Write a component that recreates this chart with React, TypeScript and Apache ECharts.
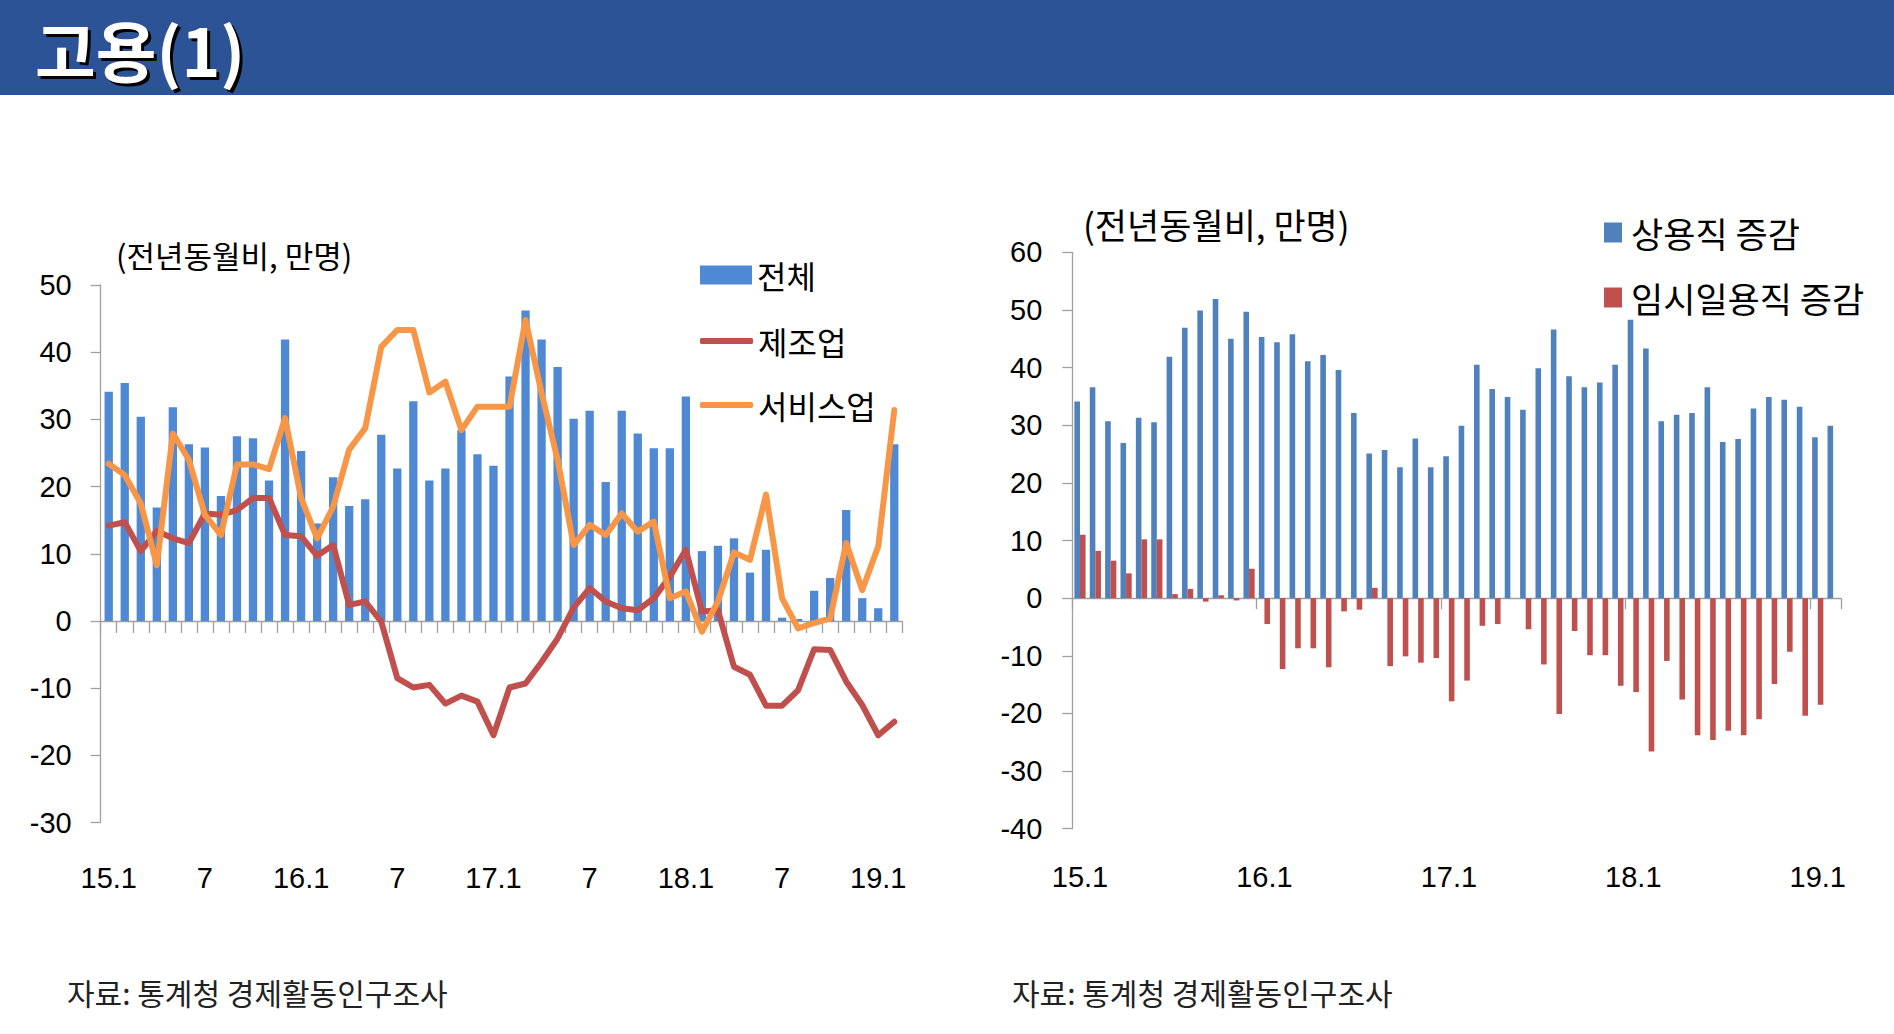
import React, { useEffect, useRef } from "react";
import * as echarts from "echarts";

// ---- Data (전년동월비, 만명) ----
const months = [
  "15.1","15.2","15.3","15.4","15.5","15.6","15.7","15.8","15.9","15.10","15.11","15.12",
  "16.1","16.2","16.3","16.4","16.5","16.6","16.7","16.8","16.9","16.10","16.11","16.12",
  "17.1","17.2","17.3","17.4","17.5","17.6","17.7","17.8","17.9","17.10","17.11","17.12",
  "18.1","18.2","18.3","18.4","18.5","18.6","18.7","18.8","18.9","18.10","18.11","18.12",
  "19.1","19.2",
];

const totalEmp = [
  34.1, 35.4, 30.4, 16.9, 31.8, 26.3, 25.8, 18.6, 27.5, 27.2, 20.9, 41.9,
  25.3, 14.5, 21.4, 17.1, 18.1, 27.7, 22.7, 32.7, 20.9, 22.7, 28.4, 24.8,
  23.1, 36.4, 46.2, 41.9, 37.8, 30.1, 31.3, 20.7, 31.3, 27.9, 25.7, 25.7,
  33.4, 10.4, 11.2, 12.3, 7.2, 10.6, 0.5, 0.3, 4.5, 6.4, 16.5, 3.4,
  1.9, 26.3,
];

const manufacturing = [
  14.2, 14.7, 10.4, 13.4, 12.3, 11.6, 16.0, 15.8, 16.5, 18.3, 18.3, 12.8,
  12.6, 9.7, 11.3, 2.4, 2.9, -0.1, -8.5, -9.9, -9.5, -12.3, -11.1, -12.0,
  -17.0, -9.9, -9.3, -6.1, -2.6, 2.0, 4.9, 2.9, 1.9, 1.6, 3.4, 6.6,
  10.6, 1.4, 1.6, -6.8, -8.0, -12.6, -12.6, -10.3, -4.2, -4.3, -9.0, -12.5,
  -17.0, -15.0,
];

const services = [
  23.4, 21.7, 17.5, 8.3, 27.9, 24.0, 15.8, 12.8, 23.3, 23.3, 22.6, 30.2,
  18.3, 12.3, 17.0, 25.5, 28.7, 40.8, 43.3, 43.3, 34.0, 35.6, 28.4, 31.9,
  31.9, 31.9, 44.8, 33.9, 24.0, 11.3, 14.3, 12.8, 16.0, 13.3, 14.8, 3.4,
  4.4, -1.6, 2.9, 10.2, 9.1, 18.8, 3.4, -1.1, -0.3, 0.4, 11.6, 4.6,
  11.1, 31.4,
];

const regularWorkers = [
  34.1, 36.6, 30.7, 26.9, 31.3, 30.5, 41.9, 46.9, 49.9, 51.9, 45.0, 49.7,
  45.3, 44.4, 45.8, 41.1, 42.2, 39.6, 32.1, 25.1, 25.7, 22.7, 27.7, 22.7,
  24.6, 29.9, 40.5, 36.3, 34.9, 32.7, 39.9, 46.6, 38.5, 36.6, 37.4, 40.5,
  48.3, 43.3, 30.7, 31.8, 32.1, 36.6, 27.1, 27.6, 32.9, 34.9, 34.4, 33.2,
  27.9, 29.9,
];

const tempDailyWorkers: (number | null)[] = [
  11.0, 8.2, 6.5, 4.3, 10.2, 10.2, 0.7, 1.6, -0.6, 0.5, -0.4, 5.1,
  -4.5, -12.3, -8.7, -8.7, -12.0, -2.3, -2.0, 1.8, -11.8, -10.1, -11.2, -10.4,
  -17.9, -14.3, -4.8, -4.5, 0, -5.4, -11.5, -20.1, -5.7, -9.9, -9.9, -15.2,
  -16.3, -26.6, -10.9, -17.6, -23.8, -24.6, -23.0, -23.8, -21.0, -14.9, -9.3, -20.4,
  -18.5, null,
];

const leftYTicks = { min: -30, max: 50, interval: 10 };
const rightYTicks = { min: -40, max: 60, interval: 10 };

const KR = '"Noto Sans CJK KR", "Noto Sans", sans-serif';
const NUM = '"Liberation Sans", Arial, sans-serif';
const AXIS_COLOR = "#A0A0A0";

export default function App() {
  const ref = useRef<HTMLDivElement>(null);

  useEffect(() => {
    if (!ref.current) return;
    const chart = echarts.init(ref.current, undefined, { renderer: "svg" });

    const leftW = 801.6;
    const rightW = 768.5;

    const option: any = {
      animation: false,
      backgroundColor: "transparent",
      grid: [
        { left: 100.7, top: 285, width: leftW, height: 537.6, containLabel: false },
        { left: 1072.3, top: 252.3, width: rightW, height: 576.4, containLabel: false },
      ],
      xAxis: [
        {
          gridIndex: 0,
          type: "category",
          data: months,
          axisLine: { onZero: true, lineStyle: { color: AXIS_COLOR, width: 1.3 } },
          axisTick: { show: true, interval: 0, length: 12, lineStyle: { color: AXIS_COLOR, width: 1.3 } },
          axisLabel: { show: false },
        },
        {
          gridIndex: 0,
          type: "category",
          data: months,
          position: "bottom",
          axisLine: { show: false, onZero: false },
          axisTick: { show: false },
          axisLabel: {
            interval: 5,
            margin: 41,
            fontSize: 29,
            fontFamily: NUM,
            color: "#000",
            formatter: (v: string) => (v.endsWith(".1") ? v : v.split(".")[1]),
          },
        },
        {
          gridIndex: 1,
          type: "category",
          data: months,
          axisLine: { onZero: true, lineStyle: { color: AXIS_COLOR, width: 1.3 } },
          axisTick: { show: true, interval: 11, length: 11, lineStyle: { color: AXIS_COLOR, width: 1.3 } },
          axisLabel: { show: false },
        },
        {
          gridIndex: 1,
          type: "category",
          data: months,
          position: "bottom",
          axisLine: { show: false, onZero: false },
          axisTick: { show: false },
          axisLabel: {
            interval: 11,
            margin: 34,
            fontSize: 29,
            fontFamily: NUM,
            color: "#000",
          },
        },
      ],
      yAxis: [
        {
          gridIndex: 0,
          type: "value",
          min: leftYTicks.min,
          max: leftYTicks.max,
          interval: leftYTicks.interval,
          splitLine: { show: false },
          axisLine: { show: true, lineStyle: { color: AXIS_COLOR, width: 1.3 } },
          axisTick: { show: true, length: 10, lineStyle: { color: AXIS_COLOR, width: 1.3 } },
          axisLabel: { margin: 29, fontSize: 29, fontFamily: NUM, color: "#000" },
        },
        {
          gridIndex: 1,
          type: "value",
          min: rightYTicks.min,
          max: rightYTicks.max,
          interval: rightYTicks.interval,
          splitLine: { show: false },
          axisLine: { show: true, lineStyle: { color: AXIS_COLOR, width: 1.3 } },
          axisTick: { show: true, length: 10, lineStyle: { color: AXIS_COLOR, width: 1.3 } },
          axisLabel: { margin: 30, fontSize: 29, fontFamily: NUM, color: "#000" },
        },
      ],
      legend: [
        {
          data: ["전체"],
          orient: "vertical",
          left: 700,
          top: 259,
          padding: 0,
          icon: "rect",
          itemWidth: 52,
          itemHeight: 19,
          selectedMode: false,
          textStyle: { fontSize: 32, lineHeight: 32, color: "#000", fontFamily: KR },
        },
        {
          data: ["제조업", "서비스업"],
          orient: "vertical",
          left: 700,
          top: 325,
          padding: 0,
          icon: "roundRect",
          itemWidth: 53,
          itemHeight: 6,
          itemGap: 32,
          selectedMode: false,
          textStyle: { fontSize: 32, lineHeight: 32, color: "#000", fontFamily: KR },
        },
        {
          data: ["상용직 증감", "임시일용직 증감"],
          orient: "vertical",
          left: 1604,
          top: 215,
          padding: 0,
          icon: "rect",
          itemWidth: 18,
          itemHeight: 20,
          itemGap: 30,
          selectedMode: false,
          textStyle: { fontSize: 35, lineHeight: 35, color: "#000", fontFamily: KR, padding: [0, 0, 0, 4] },
        },
      ],
      series: [
        {
          name: "전체",
          type: "bar",
          xAxisIndex: 0,
          yAxisIndex: 0,
          data: totalEmp,
          barWidth: 8.3,
          itemStyle: { color: "#4F89D4" },
          color: "#4F89D4",
        },
        {
          name: "제조업",
          type: "line",
          xAxisIndex: 0,
          yAxisIndex: 0,
          data: manufacturing,
          showSymbol: false,
          symbol: "none",
          color: "#C0504D",
          lineStyle: { color: "#C0504D", width: 6, join: "round", cap: "round" },
          itemStyle: { color: "#C0504D" },
        },
        {
          name: "서비스업",
          type: "line",
          xAxisIndex: 0,
          yAxisIndex: 0,
          data: services,
          showSymbol: false,
          symbol: "none",
          color: "#F79646",
          lineStyle: { color: "#F79646", width: 6, join: "round", cap: "round" },
          itemStyle: { color: "#F79646" },
        },
        {
          name: "상용직 증감",
          type: "bar",
          xAxisIndex: 2,
          yAxisIndex: 1,
          data: regularWorkers,
          barWidth: 5.6,
          barGap: "0%",
          itemStyle: { color: "#4F81BD" },
          color: "#4F81BD",
        },
        {
          name: "임시일용직 증감",
          type: "bar",
          xAxisIndex: 2,
          yAxisIndex: 1,
          data: tempDailyWorkers,
          barWidth: 5.6,
          barGap: "0%",
          itemStyle: { color: "#C0504D" },
          color: "#C0504D",
        },
      ],
      graphic: [
        {
          type: "text",
          left: 116,
          top: 239,
          style: { text: "(전년동월비, 만명)", font: `31px ${KR}`, fill: "#000" },
        },
        {
          type: "text",
          left: 1083,
          top: 206,
          style: { text: "(전년동월비, 만명)", font: `35px ${KR}`, fill: "#000" },
        },
        {
          type: "text",
          left: 67,
          top: 977,
          style: { text: "자료: 통계청 경제활동인구조사", font: `30px ${KR}`, fill: "#222" },
        },
        {
          type: "text",
          left: 1012,
          top: 977,
          style: { text: "자료: 통계청 경제활동인구조사", font: `30px ${KR}`, fill: "#222" },
        },
      ],
    };

    chart.setOption(option);
    return () => chart.dispose();
  }, []);

  return (
    <div style={{ position: "fixed", left: 0, top: 0, width: 1894, height: 1034, background: "#fff", overflow: "hidden" }}>
      <div
        style={{
          position: "absolute",
          left: 0,
          top: 0,
          width: 1894,
          height: 95,
          background: "#2D5397",
        }}
      >
        <div
          style={{
            position: "absolute",
            left: 35,
            top: 4,
            color: "#fff",
            fontFamily: KR,
            fontWeight: 700,
            fontSize: 66,
            lineHeight: "88px",
            textShadow: "3px 3px 0 #000",
          }}
        >
          고용(1)
        </div>
      </div>
      <div ref={ref} style={{ position: "absolute", left: 0, top: 0, width: 1894, height: 1034 }} />
    </div>
  );
}
